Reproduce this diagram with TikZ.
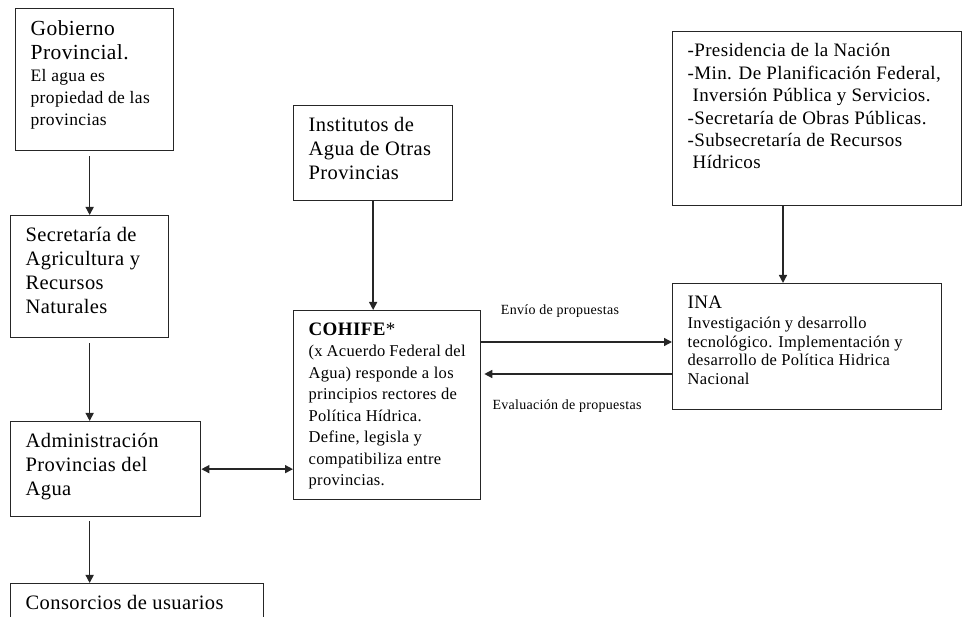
\documentclass[tikz,border=0pt]{standalone}
\usepackage{fontspec}
\setmainfont{Liberation Serif}[LetterSpace=2]
\usetikzlibrary{arrows.meta}

\newcommand{\textocaja}[3]{\parbox[c][#2pt][t]{#1pt}{\raggedright #3}}
\newcommand{\fgrande}{\fontsize{20.5}{24}\selectfont}
\newcommand{\fmedia}{\fontsize{17.5}{22}\selectfont}

\begin{document}
\begin{tikzpicture}[x=1pt, y=-1pt,
    caja/.style={draw=black!85, line width=1.3pt, anchor=north west,
      inner xsep=15pt, inner ysep=12pt},
    flecha/.style={draw=black!85, line width=1.4pt, -{Triangle[length=8pt,width=8pt]}},
    etiqueta/.style={font=\fontsize{14}{16}\selectfont, inner sep=0pt}]
  \useasboundingbox (0,0) rectangle (962,617);

  % Provincial chain
  \node[caja] (gob) at (15,8) {\textocaja{128}{118}{\fontsize{21.5}{24}\selectfont Gobierno\\Provincial.\par
    \fmedia El agua es\\propiedad de las\\provincias}};
  \node[caja] (sec) at (10,215) {\textocaja{128}{98}{\fgrande Secretaría de\\Agricultura y\\Recursos\\Naturales}};
  \node[caja] (adm) at (10,421) {\textocaja{160}{71}{\fgrande Administración\\Provincias del\\Agua}};
  \node[caja] (cons) at (10,583) {\textocaja{223}{36}{\fgrande Consorcios de usuarios}};

  % Federal level
  \node[caja] (inst) at (293,105) {\textocaja{129}{71}{\fgrande Institutos de\\Agua de Otras\\Provincias}};
  \node[caja] (coh) at (293,310) {\textocaja{157}{165}{\fontsize{19}{24}\selectfont\textbf{COHIFE}*\par
    \fontsize{16.5}{21.5}\selectfont (x Acuerdo Federal del\\Agua) responde a los\\principios rectores de\\Política Hídrica.\\Define, legisla y\\compatibiliza entre\\provincias.}};

  % National level
  \node[caja] (pres) at (672,31) {\textocaja{259}{150}{\fontsize{19}{22.4}\selectfont -Presidencia de la Nación\\-Min. De Planificación Federal,\\\hspace*{5pt}Inversión Pública y Servicios.\\-Secretaría de Obras Públicas.\\-Subsecretaría de Recursos\\\hspace*{5pt}Hídricos}};
  \node[caja] (ina) at (672,283) {\textocaja{239}{102}{\fontsize{19}{22}\selectfont INA\par\vspace{2pt}
    \fontsize{16.5}{18.5}\selectfont Investigación y desarrollo\\tecnológico. Implementación y\\desarrollo de Política Hidrica\\Nacional}};

  % Arrows
  \draw[flecha, shorten <=5pt] (sec.north |- gob.south) -- (sec.north);
  \draw[flecha, shorten <=5pt] (sec.south) -- (sec.south |- adm.north);
  \draw[flecha, shorten <=4pt] (sec.south |- adm.south) -- (sec.south |- cons.north);
  \draw[flecha, {Triangle[length=8pt,width=8pt]}-{Triangle[length=8pt,width=8pt]}] (adm.east) -- (adm.east -| coh.west);
  \draw[flecha] (inst.south) -- (inst.south |- coh.north);
  \draw[flecha] ([xshift=111pt]pres.south west) -- ([xshift=111pt]ina.north west);

  \coordinate (envfin) at ([yshift=-59pt]ina.north west);
  \coordinate (evalini) at ([yshift=-91pt]ina.north west);
  \draw[flecha] (envfin -| coh.east) -- (envfin);
  \draw[flecha, shorten >=3pt] (evalini) -- (evalini -| coh.east);

  \node[etiqueta] (envio) at (560,311) {Envío de propuestas};
  \node[etiqueta] (evaluacion) at (567,406) {Evaluación de propuestas};
\end{tikzpicture}
\end{document}
